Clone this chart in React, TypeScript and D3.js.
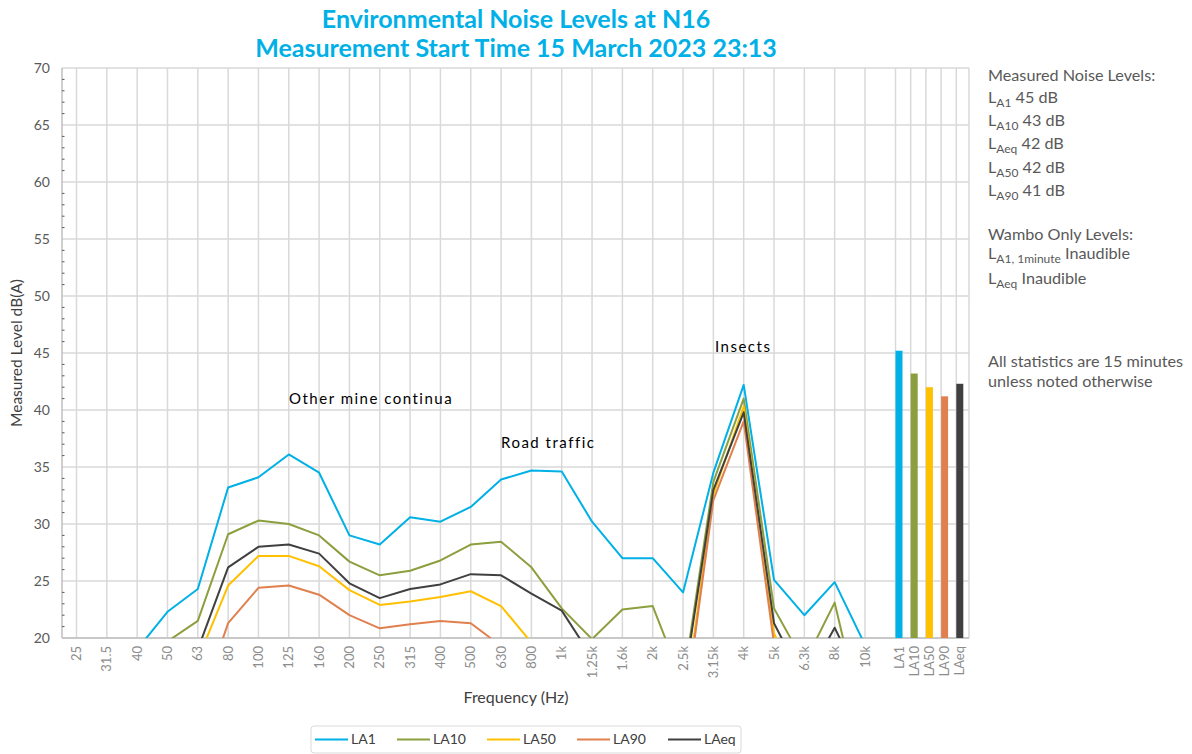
import React from 'react';
import * as d3 from 'd3';

const freqLabels = ['25', '31.5', '40', '50', '63', '80', '100', '125', '160', '200', '250', '315', '400', '500', '630', '800', '1k', '1.25k', '1.6k', '2k', '2.5k', '3.15k', '4k', '5k', '6.3k', '8k', '10k'];

const la1 = [17.5, 18.0, 19.0, 22.3, 24.3, 33.2, 34.1, 36.1, 34.5, 29.0, 28.2, 30.6, 30.2, 31.5, 33.9, 34.7, 34.6, 30.2, 27.0, 27.0, 24.0, 34.5, 42.2, 25.1, 22.0, 24.9, 19.4];
const la10 = [16.0, 16.5, 17.5, 19.7, 21.5, 29.1, 30.3, 30.0, 29.0, 26.7, 25.5, 25.9, 26.8, 28.2, 28.45, 26.2, 22.6, 19.9, 22.5, 22.8, 16.0, 33.7, 41.0, 22.6, 17.8, 23.1, 11.8];
const la50 = [14.0, 14.5, 15.0, 16.0, 18.1, 24.6, 27.2, 27.2, 26.3, 24.2, 22.9, 23.2, 23.6, 24.1, 22.8, 19.6, 17.5, 16.5, 16.0, 16.0, 13.1, 32.6, 40.3, 20.4, 15.0, 14.0, 12.0];
const la90 = [12.0, 12.5, 13.0, 13.3, 13.6, 21.3, 24.4, 24.6, 23.8, 22.0, 20.85, 21.2, 21.5, 21.3, 19.3, 17.0, 16.0, 15.0, 14.5, 14.5, 12.4, 32.1, 39.0, 19.5, 14.0, 14.0, 12.0];
const laeq = [15.5, 16.0, 17.0, 18.0, 19.0, 26.2, 28.0, 28.2, 27.4, 24.8, 23.5, 24.3, 24.7, 25.6, 25.5, 23.9, 22.4, 18.3, 17.5, 17.5, 15.5, 33.0, 39.8, 21.3, 16.1, 20.9, 15.4];

const statLabels = ['LA1', 'LA10', 'LA50', 'LA90', 'LAeq'];
const statValues = [45.2, 43.2, 42.0, 41.2, 42.3];

const yTicks = [20, 25, 30, 35, 40, 45, 50, 55, 60, 65, 70];

const colors = ['#00B0E6', '#8C9F3E', '#FFC000', '#E0804F', '#404040'];
const seriesList = [la1, la10, la50, la90, laeq];

const W = 1192;
const H = 754;
const plot = { left: 62, right: 969, top: 68, bottom: 638 };
const font = "Lato, 'Open Sans', sans-serif";

const Sub = ({ main, sub, rest }: { main: string; sub: string; rest: string }) => (
  <>
    <tspan>{main}</tspan>
    <tspan fontSize={12} dy={4}>{sub}</tspan>
    <tspan dy={-4}> {rest}</tspan>
  </>
);

const App = () => {
  const x = d3.scalePoint<string>().domain(freqLabels).range([76.5, 865]);
  const xs = d3.scalePoint<string>().domain(statLabels).range([895.5, 956.3]);
  const y = d3.scaleLinear().domain([20, 70]).range([plot.bottom, plot.top]);

  const line = d3.line<number>()
    .x((_, i) => x(freqLabels[i]) as number)
    .y((d) => y(d));

  const minor = d3.range(20, 71).filter((v) => v % 5 !== 0);
  const barW = 7;

  const legendX = [315, 397, 487, 577, 668];
  const rightLines = [
    { main: 'L', sub: 'A1', rest: '45 dB', y: 103 },
    { main: 'L', sub: 'A10', rest: '43 dB', y: 126 },
    { main: 'L', sub: 'Aeq', rest: '42 dB', y: 149 },
    { main: 'L', sub: 'A50', rest: '42 dB', y: 173 },
    { main: 'L', sub: 'A90', rest: '41 dB', y: 196 },
  ];

  return (
    <svg width={W} height={H} style={{ position: 'absolute', left: 0, top: 0, background: '#fff' }} fontFamily={font}>
      <defs>
        <clipPath id="plotClip">
          <rect x={plot.left} y={plot.top} width={plot.right - plot.left} height={plot.bottom - plot.top} />
        </clipPath>
      </defs>

      {/* title */}
      <text x={516} y={28} textAnchor="middle" fontSize={25} fontWeight="bold" fill="#00B0E6">Environmental Noise Levels at N16</text>
      <text x={516} y={57} textAnchor="middle" fontSize={25} fontWeight="bold" fill="#00B0E6">Measurement Start Time 15 March 2023 23:13</text>

      {/* grid */}
      {yTicks.map((t) => (
        <line key={'gy' + t} x1={plot.left} x2={plot.right} y1={y(t)} y2={y(t)} stroke="#d9d9d9" strokeWidth={1.5} />
      ))}
      {freqLabels.map((f) => (
        <line key={'gx' + f} x1={x(f)} x2={x(f)} y1={plot.top} y2={plot.bottom} stroke="#d9d9d9" strokeWidth={1.5} />
      ))}
      {statLabels.map((s) => (
        <line key={'gs' + s} x1={xs(s)} x2={xs(s)} y1={plot.top} y2={plot.bottom} stroke="#d9d9d9" strokeWidth={1.5} />
      ))}
      <line x1={plot.right} x2={plot.right} y1={plot.top} y2={plot.bottom} stroke="#d9d9d9" strokeWidth={1.5} />

      {/* axes */}
      <line x1={plot.left} x2={plot.left} y1={plot.top} y2={plot.bottom} stroke="#bfbfbf" strokeWidth={1.5} />
      <line x1={plot.left} x2={plot.right} y1={plot.bottom} y2={plot.bottom} stroke="#bfbfbf" strokeWidth={1.5} />
      {minor.map((v) => (
        <line key={'m' + v} x1={plot.left} x2={plot.left + 2.5} y1={y(v)} y2={y(v)} stroke="#595959" strokeWidth={1} />
      ))}
      {yTicks.map((t) => (
        <text key={'yt' + t} x={50} y={y(t)} dy="0.35em" textAnchor="end" fontSize={14} fill="#595959">{t}</text>
      ))}
      {freqLabels.map((f) => (
        <text key={'xt' + f} transform={`translate(${x(f)},646) rotate(-90)`} dy="0.35em" textAnchor="end" fontSize={13} fill="#8c8c8c">{f}</text>
      ))}
      {statLabels.map((s) => (
        <text key={'st' + s} transform={`translate(${(xs(s) as number) + barW / 2},646) rotate(-90)`} dy="0.35em" textAnchor="end" fontSize={13} fill="#8c8c8c">{s}</text>
      ))}

      <text transform="translate(22,353) rotate(-90)" textAnchor="middle" fontSize={15.5} fill="#404040">Measured Level dB(A)</text>
      <text x={516} y={703} textAnchor="middle" fontSize={16} fill="#404040">Frequency (Hz)</text>

      {/* series */}
      <g clipPath="url(#plotClip)">
        {seriesList.map((s, i) => (
          <path key={'l' + i} d={line(s) as string} fill="none" stroke={colors[i]} strokeWidth={2} strokeLinejoin="round" />
        ))}
      </g>
      {statValues.map((v, i) => (
        <rect key={'b' + i} x={xs(statLabels[i])} y={y(v)} width={barW} height={plot.bottom - y(v)} fill={colors[i]} />
      ))}

      {/* annotations */}
      <text x={289} y={404} fontSize={15} letterSpacing={1.5} fill="#000">Other mine continua</text>
      <text x={501} y={448} fontSize={15} letterSpacing={1.5} fill="#000">Road traffic</text>
      <text x={715} y={352} fontSize={15} letterSpacing={1.5} fill="#000">Insects</text>

      {/* right notes */}
      <g fontSize={16.2} fill="#595959">
        <text x={988} y={81}>Measured Noise Levels:</text>
        {rightLines.map((r) => (
          <text key={r.sub} x={988} y={r.y}><Sub main={r.main} sub={r.sub} rest={r.rest} /></text>
        ))}
        <text x={988} y={240}>Wambo Only Levels:</text>
        <text x={988} y={259}><Sub main="L" sub="A1, 1minute" rest="Inaudible" /></text>
        <text x={988} y={284}><Sub main="L" sub="Aeq" rest="Inaudible" /></text>
        <text x={988} y={367}>All statistics are 15 minutes</text>
        <text x={988} y={387}>unless noted otherwise</text>
      </g>

      {/* legend */}
      <rect x={311} y={726} width={430} height={27} rx={3} fill="#fff" stroke="#d9d9d9" />
      {statLabels.map((s, i) => (
        <g key={'lg' + s}>
          <line x1={legendX[i]} x2={legendX[i] + 33} y1={739.5} y2={739.5} stroke={colors[i]} strokeWidth={2} />
          <text x={legendX[i] + 36} y={739.5} dy="0.35em" fontSize={14} fill="#404040">{s}</text>
        </g>
      ))}
    </svg>
  );
};

export default App;
